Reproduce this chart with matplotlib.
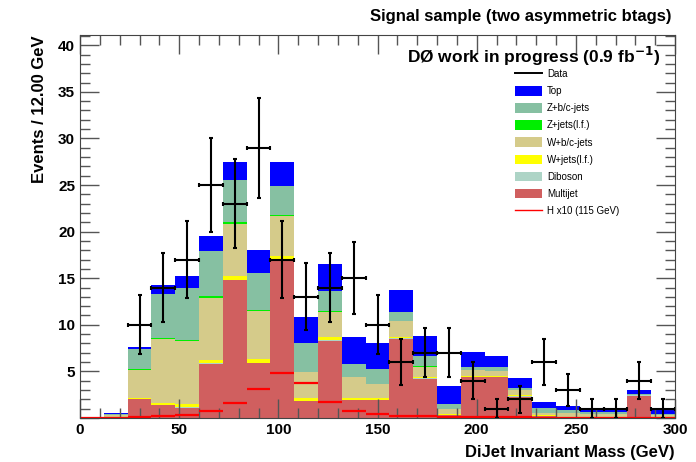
import numpy as np
import matplotlib
matplotlib.use("Agg")
import matplotlib.pyplot as plt
from matplotlib.patches import Patch
from matplotlib.lines import Line2D
from matplotlib.ticker import MultipleLocator, FuncFormatter

plt.rcParams['font.family'] = ['Liberation Sans', 'DejaVu Sans']

# 25 bins of 12 GeV between 0 and 300 GeV
edges = np.arange(0, 301, 12)

data = [0, 0, 10, 14, 17, 25, 23, 29, 17, 13, 14, 15, 10, 6, 7, 7, 4, 1, 2, 6, 3, 1, 1, 4, 1]

multijet = [0, 0, 2.0, 1.35, 1.1, 5.8, 14.8, 5.9, 16.9, 1.8, 8.3, 1.9, 1.9, 8.5, 4.2, 0.3,
            4.4, 4.4, 2.3, 0.2, 0.1, 0.1, 0.1, 2.4, 0.1]
diboson = [0, 0, 0.05, 0.05, 0.05, 0.05, 0.05, 0.05, 0.05, 0.05, 0.05, 0.05, 0.05, 0.05, 0.05, 0.02,
           0.02, 0.02, 0.02, 0.02, 0.02, 0.02, 0.02, 0.02, 0.02]
wjets_lf = [0, 0, 0.1, 0.25, 0.3, 0.35, 0.4, 0.35, 0.4, 0.25, 0.3, 0.2, 0.2, 0.1, 0.1, 0.1,
            0.05, 0.05, 0.15, 0.05, 0.0, 0.0, 0.0, 0.05, 0.0]
wbc = [0, 0.3, 3.05, 6.85, 6.85, 6.7, 5.55, 5.2, 4.35, 2.8, 2.75, 2.2, 1.45, 1.75, 1.15, 0.5,
       0.7, 0.6, 0.5, 0.3, 0.4, 0.3, 0.3, 0.05, 0.2]
zjets_lf = [0, 0, 0.1, 0.05, 0.05, 0.15, 0.2, 0.1, 0.1, 0.05, 0.05, 0.05, 0.05, 0.05, 0.05, 0.0,
            0.0, 0.0, 0.0, 0.0, 0.0, 0.0, 0.0, 0.0, 0.0]
zbc = [0, 0.15, 2.1, 4.75, 5.65, 4.85, 4.5, 4.0, 3.1, 3.05, 2.15, 1.4, 1.6, 0.95, 1.15, 0.6,
       0.3, 0.4, 0.3, 0.5, 0.3, 0.2, 0.2, 0.05, 0.15]
top = [0, 0.05, 0.2, 1.0, 1.25, 1.6, 2.0, 2.4, 2.6, 2.8, 2.9, 2.9, 2.85, 2.35, 2.1, 1.9,
       1.6, 1.2, 1.0, 0.65, 0.5, 0.4, 0.4, 0.45, 0.35]
higgs_x10 = [0, 0, 0.1, 0.2, 0.3, 0.7, 1.6, 3.1, 4.8, 3.8, 1.7, 0.7, 0.45, 0.25, 0.2, 0.1,
             0.1, 0.08, 0.06, 0.05, 0.05, 0.05, 0.05, 0.05, 0.05]

components = [
    ("Multijet", multijet, "#d05f5f"),
    ("Diboson", diboson, "#add4c6"),
    ("W+jets(l.f.)", wjets_lf, "#ffff00"),
    ("W+b/c-jets", wbc, "#d5cb8a"),
    ("Z+jets(l.f.)", zjets_lf, "#00ee00"),
    ("Z+b/c-jets", zbc, "#86c0a2"),
    ("Top", top, "#0000ff"),
]

fig = plt.figure(figsize=(6.96, 4.62), dpi=100)
ax = fig.add_axes([80 / 696, 1 - 418 / 462, 595 / 696, 383 / 462])

left = edges[:-1]
width = np.diff(edges)
bottom = np.zeros(len(left))
for name, vals, col in components:
    vals = np.array(vals, dtype=float)
    ax.bar(left, vals, width=width, bottom=bottom, align="edge", color=col,
           linewidth=0)
    bottom += vals

# Higgs signal x10, drawn as horizontal bin segments
ax.hlines(higgs_x10, left, edges[1:], color="#ff0000", linewidth=1.6)

# data with Poisson errors
centers = left + width / 2
d = np.array(data, dtype=float)
m = d > 0
ax.errorbar(centers[m], d[m], xerr=width[m] / 2, yerr=np.sqrt(d[m]), fmt="none",
            ecolor="black", elinewidth=1.5, capsize=1.5, capthick=1.5)

ax.set_xlim(0, 300)
ax.set_ylim(0, 41.1)
ax.xaxis.set_major_locator(MultipleLocator(50))
ax.xaxis.set_minor_locator(MultipleLocator(10))
ax.yaxis.set_major_locator(MultipleLocator(5))
ax.yaxis.set_minor_locator(MultipleLocator(1))
# only the x axis shows the "0"
ax.yaxis.set_major_formatter(FuncFormatter(lambda v, p: "" if v == 0 else f"{v:g}"))
ax.tick_params(which="both", direction="in", top=True, right=True, colors="#555555",
               labelcolor="black", labelsize=11)
ax.tick_params(which="major", length=14, width=1)
ax.tick_params(which="minor", length=7, width=1)
for lab in ax.get_xticklabels() + ax.get_yticklabels():
    lab.set_fontweight("bold")
for s in ax.spines.values():
    s.set_color("#444444")

ax.set_xlabel("DiJet Invariant Mass (GeV)", fontsize=12, fontweight="bold",
              loc="right", labelpad=6)
ax.set_ylabel("Events / 12.00 GeV", fontsize=12, fontweight="bold", loc="top",
              labelpad=8)

fig.text(672 / 696, 1 - 16 / 462, "Signal sample (two asymmetric btags)",
         ha="right", va="center", fontsize=12, fontweight="bold")
ax.text(0.975, 0.945, r"DØ work in progress (0.9 fb$^{\mathbf{-1}}$)",
        transform=ax.transAxes, ha="right", va="center", fontsize=12.5,
        fontweight="bold")

handles = [Line2D([], [], color="black", lw=1.4)]
labels = ["Data"]
for name, vals, col in reversed(components):
    handles.append(Patch(facecolor=col, edgecolor="none"))
    labels.append(name)
handles.append(Line2D([], [], color="#ff0000", lw=1))
labels.append("H x10 (115 GeV)")

fig.legend(handles, labels, loc="upper left", bbox_to_anchor=(515 / 696, 1 - 69 / 462),
           frameon=False, fontsize=7, handlelength=2.8, handleheight=1.15,
           labelspacing=0.72, handletextpad=0.5, borderpad=0, borderaxespad=0)

fig.savefig("out.png", dpi=100)
